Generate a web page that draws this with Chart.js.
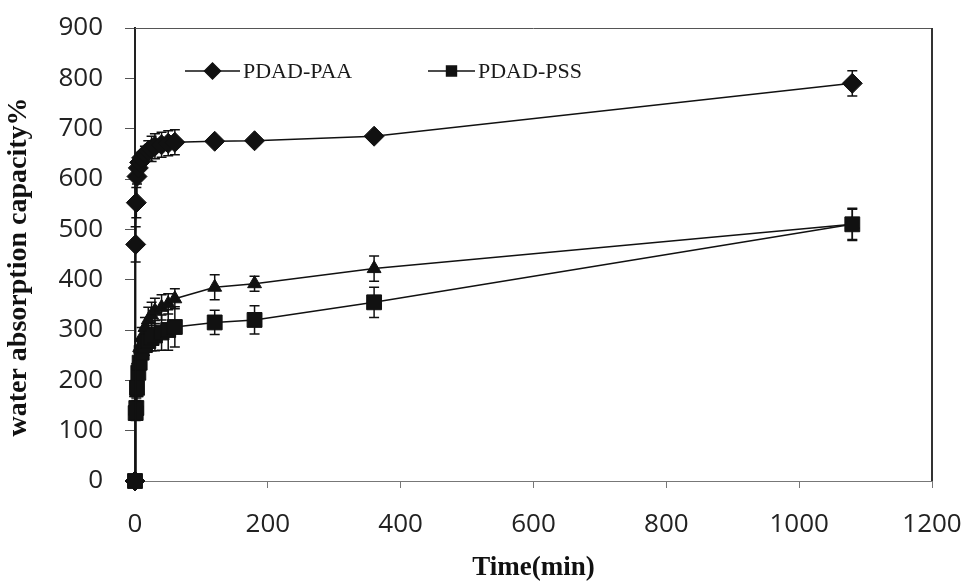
<!DOCTYPE html>
<html>
<head>
<meta charset="utf-8">
<script src="https://cdn.jsdelivr.net/npm/chart.js@4.4.1/dist/chart.umd.min.js"></script>
<style>
  html, body { margin: 0; padding: 0; background: #fff; }
</style>
</head>
<body>
<canvas id="chart" width="966" height="585"></canvas>
<script>
// sampling times (min)
var times = [0, 1, 2, 3, 5, 7, 10, 15, 20, 25, 30, 40, 50, 60, 120, 180, 360, 1080];

// water absorption capacity %
var paaValues = [0, 470, 553, 605, 622, 633, 642, 650, 656, 660, 665, 668, 671, 673, 675, 676, 685, 790];
var paaErrors = [0, 35, 30, 15, 12, 12, 12, 15, 20, 25, 25, 25, 25, 25, 8, 8, 8, 25];

var pssValues = [0, 135, 145, 185, 215, 235, 255, 270, 278, 284, 289, 295, 300, 306, 315, 320, 355, 510];
var pssErrors = [0, 15, 15, 15, 15, 15, 15, 20, 20, 25, 30, 35, 40, 40, 24, 28, 30, 32];

var thirdValues = [0, 140, 175, 205, 240, 265, 285, 305, 320, 330, 338, 345, 352, 362, 385, 392, 422, 510];
var thirdErrors = [0, 10, 10, 15, 15, 15, 20, 20, 25, 25, 25, 25, 20, 20, 25, 15, 25, 30];

var seriesLabels = ['PDAD-PAA', 'PDAD-PSS', ''];
var xTicks = [0, 200, 400, 600, 800, 1000, 1200];
var yTicks = [0, 100, 200, 300, 400, 500, 600, 700, 800, 900];
var xTitle = 'Time(min)';
var yTitle = 'water absorption capacity%';

function toPoints(vals) {
    return times.map(function(t, i) { return { x: t, y: vals[i] }; });
}

var ink = '#111';

// vertical error bars with caps
var errorBars = {
    id: 'errorBars',
    beforeDatasetsDraw: function(chart) {
        var ctx = chart.ctx,
            xs = chart.scales.x,
            ys = chart.scales.y;
        ctx.save();
        ctx.strokeStyle = ink;
        ctx.lineWidth = 1.5;
        chart.data.datasets.forEach(function(ds) {
            ds.errors.forEach(function(e, j) {
                if (!e) return;
                var p = ds.data[j];
                var x = xs.getPixelForValue(p.x),
                    y1 = ys.getPixelForValue(p.y + e),
                    y2 = ys.getPixelForValue(p.y - e);
                ctx.beginPath();
                ctx.moveTo(x, y1); ctx.lineTo(x, y2);
                ctx.moveTo(x - 5, y1); ctx.lineTo(x + 5, y1);
                ctx.moveTo(x - 5, y2); ctx.lineTo(x + 5, y2);
                ctx.stroke();
            });
        });
        ctx.restore();
    }
};

// top and right frame lines, y title
var frame = {
    id: 'frame',
    afterDraw: function(chart) {
        var a = chart.chartArea, ctx = chart.ctx;
        ctx.save();
        ctx.strokeStyle = '#555';
        ctx.lineWidth = 1;
        ctx.beginPath();
        ctx.moveTo(a.left, a.top + 0.5); ctx.lineTo(a.right, a.top + 0.5);
        ctx.stroke();
        ctx.strokeStyle = '#333';
        ctx.lineWidth = 2;
        ctx.beginPath();
        ctx.moveTo(a.right, a.top); ctx.lineTo(a.right, a.bottom);
        ctx.stroke();

        ctx.translate(19, 267);
        ctx.rotate(-Math.PI / 2);
        ctx.font = 'bold 28px "Liberation Serif"';
        ctx.fillStyle = '#111';
        ctx.textAlign = 'center';
        ctx.textBaseline = 'middle';
        ctx.fillText(yTitle, 0, 0);
        ctx.restore();
    }
};

// legend inside the plot: line - marker - line, then text
var innerLegend = {
    id: 'innerLegend',
    afterDraw: function(chart) {
        var ctx = chart.ctx;
        var spots = [{ x: 185, w: 55 }, { x: 428, w: 47 }];
        var y = 71;
        ctx.save();
        chart.data.datasets.forEach(function(ds, i) {
            if (!ds.label) return;
            var s = spots[i];
            ctx.strokeStyle = ink;
            ctx.fillStyle = ink;
            ctx.lineWidth = 1.5;
            ctx.beginPath();
            ctx.moveTo(s.x, y); ctx.lineTo(s.x + s.w, y);
            ctx.stroke();
            Chart.helpers.drawPoint(ctx, {
                pointStyle: ds.pointStyle,
                radius: ds.pointStyle === 'rect' ? 7 : 8,
                borderWidth: 1
            }, s.x + s.w / 2, y);
            ctx.font = '22px "Liberation Serif"';
            ctx.textBaseline = 'middle';
            ctx.fillStyle = '#1a1a1a';
            ctx.fillText(ds.label, s.x + s.w + 3, y + 1);
        });
        ctx.restore();
    }
};

// fixed box sizes, no extra room for overhanging tick labels
function fitX(s) {
    s.height = 104;
    s.paddingLeft = 0; s.paddingRight = 0; s.paddingTop = 0; s.paddingBottom = 0;
}
function fitY(s) {
    s.width = 135;
    s.paddingLeft = 0; s.paddingRight = 0; s.paddingTop = 0; s.paddingBottom = 0;
}

var ctx = document.getElementById('chart').getContext('2d');
var myChart = new Chart(ctx, {
    type: 'line',
    data: {
        datasets: [{
            label: seriesLabels[0],
            data: toPoints(paaValues),
            errors: paaErrors,
            pointStyle: 'rectRot',
            pointRadius: 10
        }, {
            label: seriesLabels[1],
            data: toPoints(pssValues),
            errors: pssErrors,
            pointStyle: 'rect',
            pointRadius: 10.5
        }, {
            label: seriesLabels[2],
            data: toPoints(thirdValues),
            errors: thirdErrors,
            pointStyle: 'triangle',
            pointRadius: 8
        }].map(function(d) {
            d.borderColor = ink;
            d.backgroundColor = ink;
            d.pointBackgroundColor = ink;
            d.pointBorderColor = ink;
            d.pointBorderWidth = 1;
            d.borderWidth = 1.5;
            d.tension = 0;
            d.fill = false;
            d.clip = false;
            return d;
        })
    },
    options: {
        responsive: false,
        animation: false,
        layout: { padding: { left: 0, right: 34, top: 28, bottom: 0 } },
        plugins: {
            legend: { display: false },
            tooltip: { enabled: false }
        },
        scales: {
            x: {
                type: 'linear',
                min: 0,
                max: 1200,
                afterBuildTicks: function(s) { s.ticks = xTicks.map(function(v) { return { value: v }; }); },
                afterFit: fitX,
                grid: { drawOnChartArea: false, tickLength: 7, color: '#777' },
                border: { color: '#777', width: 1 },
                ticks: {
                    font: { family: '"Open Sans"', size: 26 },
                    color: '#222',
                    padding: 21,
                    maxRotation: 0,
                    callback: function(v) { return String(v); }
                },
                title: {
                    display: true,
                    text: xTitle,
                    font: { family: '"Liberation Serif"', size: 27, weight: 'bold' },
                    color: '#111',
                    padding: { top: 0, bottom: 1 }
                }
            },
            y: {
                min: 0,
                max: 900,
                afterBuildTicks: function(s) { s.ticks = yTicks.map(function(v) { return { value: v }; }); },
                afterFit: fitY,
                grid: { drawOnChartArea: false, tickLength: 10, color: '#555' },
                border: { color: '#222', width: 2 },
                ticks: {
                    font: { family: '"Open Sans"', size: 26 },
                    color: '#222',
                    padding: 22,
                    callback: function(v) { return String(v); }
                }
            }
        }
    },
    plugins: [errorBars, frame, innerLegend]
});
</script>
</body>
</html>
